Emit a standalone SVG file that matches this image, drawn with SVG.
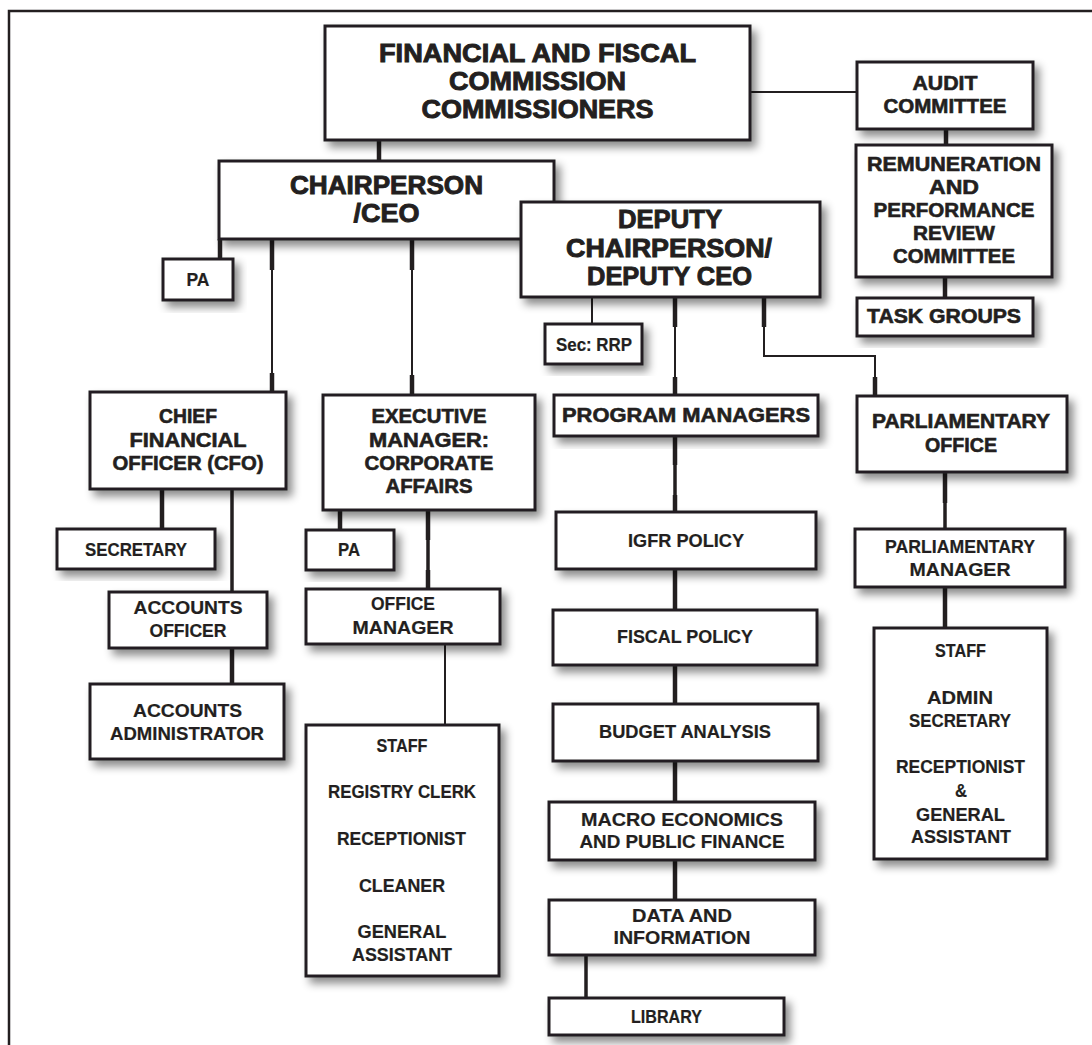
<svg xmlns="http://www.w3.org/2000/svg" width="1092" height="1045" viewBox="0 0 1092 1045">
<style>
.bg{fill:#fff}
.frame{fill:none;stroke:#231f20;stroke-width:2.5}
.box{fill:#fff;stroke:#231f20;stroke-width:3;filter:url(#sh)}
.t{font-family:"Liberation Sans",Arial,sans-serif;font-weight:bold;fill:#231f20;text-anchor:middle}
.h{font-size:25px;stroke:#231f20;stroke-width:0.9}
.m{font-size:20px;stroke:#231f20;stroke-width:0.6}
.s{font-size:19px;stroke:#231f20;stroke-width:0.2}
.ln{fill:none;stroke:#231f20;stroke-width:2;stroke-linecap:butt}
.th{fill:none;stroke:#231f20;stroke-width:4.5;stroke-linecap:butt}
.md{fill:none;stroke:#231f20;stroke-width:3.5;stroke-linecap:butt}
</style>
<defs>
<filter id="sh" x="-10%" y="-10%" width="130%" height="140%">
<feDropShadow dx="5" dy="6" stdDeviation="4" flood-color="#000" flood-opacity="0.45"/>
</filter>
</defs>
<rect class="bg" x="0" y="0" width="1092" height="1045"/>
<path class="frame" d="M9,1045 V11 H1092"/>

<g id="connectors">
<line class="th" x1="379" y1="140" x2="379" y2="161"/>
<line class="ln" x1="750" y1="92" x2="857" y2="92"/>
<line class="th" x1="946" y1="129" x2="946" y2="145"/>
<line class="th" x1="945" y1="277" x2="945" y2="298"/>
<line class="th" x1="220" y1="239" x2="220" y2="259"/>
<line class="ln" x1="272" y1="239" x2="272" y2="392"/>
<line class="th" x1="272" y1="239" x2="272" y2="270"/>
<line class="th" x1="272" y1="373" x2="272" y2="392"/>
<line class="ln" x1="412" y1="239" x2="412" y2="395"/>
<line class="th" x1="412" y1="239" x2="412" y2="270"/>
<line class="th" x1="412" y1="375" x2="412" y2="395"/>
<line class="ln" x1="592" y1="297" x2="592" y2="324"/>
<line class="ln" x1="675" y1="297" x2="675" y2="395"/>
<line class="th" x1="675" y1="297" x2="675" y2="327"/>
<line class="th" x1="675" y1="377" x2="675" y2="395"/>
<path class="ln" d="M764,297 V356 H875 V396"/>
<line class="th" x1="764" y1="297" x2="764" y2="327"/>
<line class="th" x1="875" y1="377" x2="875" y2="396"/>
<line class="th" x1="162" y1="489" x2="162" y2="529"/>
<line class="md" x1="232" y1="489" x2="232" y2="592"/>
<line class="th" x1="232" y1="648" x2="232" y2="684"/>
<line class="th" x1="340" y1="510" x2="340" y2="530"/>
<line class="md" x1="428" y1="510" x2="428" y2="589"/>
<line class="th" x1="428" y1="510" x2="428" y2="540"/>
<line class="th" x1="428" y1="570" x2="428" y2="589"/>
<line class="ln" x1="445" y1="644" x2="445" y2="725"/>
<line class="md" x1="675" y1="436" x2="675" y2="512"/>
<line class="th" x1="675" y1="436" x2="675" y2="465"/>
<line class="th" x1="675" y1="495" x2="675" y2="512"/>
<line class="th" x1="675" y1="569" x2="675" y2="610"/>
<line class="th" x1="675" y1="665" x2="675" y2="704"/>
<line class="th" x1="675" y1="761" x2="675" y2="802"/>
<line class="th" x1="675" y1="860" x2="675" y2="900"/>
<line class="md" x1="586" y1="955" x2="586" y2="998"/>
<line class="md" x1="945" y1="472" x2="945" y2="529"/>
<line class="th" x1="945" y1="472" x2="945" y2="503"/>
<line class="th" x1="945" y1="587" x2="945" y2="628"/>
</g>

<g id="ffc">
<rect class="box" x="325" y="26" width="425" height="114"/>
<text class="t h" x="537.5" y="62" textLength="317" lengthAdjust="spacingAndGlyphs">FINANCIAL AND FISCAL</text>
<text class="t h" x="537.5" y="90" textLength="177" lengthAdjust="spacingAndGlyphs">COMMISSION</text>
<text class="t h" x="537.5" y="118" textLength="232" lengthAdjust="spacingAndGlyphs">COMMISSIONERS</text>
</g>

<g id="audit">
<rect class="box" x="857" y="62" width="176" height="67"/>
<text class="t m" x="945" y="90" textLength="65" lengthAdjust="spacingAndGlyphs">AUDIT</text>
<text class="t m" x="945" y="113" textLength="123" lengthAdjust="spacingAndGlyphs">COMMITTEE</text>
</g>

<g id="remuneration">
<rect class="box" x="856" y="145" width="196" height="132"/>
<text class="t m" x="954" y="171" textLength="174" lengthAdjust="spacingAndGlyphs">REMUNERATION</text>
<text class="t m" x="954" y="194" textLength="50" lengthAdjust="spacingAndGlyphs">AND</text>
<text class="t m" x="954" y="217" textLength="161" lengthAdjust="spacingAndGlyphs">PERFORMANCE</text>
<text class="t m" x="954" y="240" textLength="82" lengthAdjust="spacingAndGlyphs">REVIEW</text>
<text class="t m" x="954" y="263" textLength="122" lengthAdjust="spacingAndGlyphs">COMMITTEE</text>
</g>

<g id="task-groups">
<rect class="box" x="857" y="298" width="176" height="38"/>
<text class="t m" x="944" y="323" textLength="154" lengthAdjust="spacingAndGlyphs">TASK GROUPS</text>
</g>

<g id="chair">
<rect class="box" x="219" y="161" width="335" height="78"/>
<text class="t h" x="386.5" y="194" textLength="193" lengthAdjust="spacingAndGlyphs">CHAIRPERSON</text>
<text class="t h" x="386.5" y="222" textLength="66" lengthAdjust="spacingAndGlyphs">/CEO</text>
</g>

<g id="deputy">
<rect class="box" x="521" y="202" width="299" height="95"/>
<text class="t h" x="670" y="228" textLength="104" lengthAdjust="spacingAndGlyphs">DEPUTY</text>
<text class="t h" x="669" y="257" textLength="206" lengthAdjust="spacingAndGlyphs">CHAIRPERSON/</text>
<text class="t h" x="669.5" y="285" textLength="165" lengthAdjust="spacingAndGlyphs">DEPUTY CEO</text>
</g>

<g id="pa-chair">
<rect class="box" x="163" y="259" width="70" height="41"/>
<text class="t s" x="198" y="286" textLength="23" lengthAdjust="spacingAndGlyphs">PA</text>
</g>

<g id="sec-rrp">
<rect class="box" x="545" y="324" width="97" height="40"/>
<text class="t s" x="594" y="351" textLength="76" lengthAdjust="spacingAndGlyphs">Sec: RRP</text>
</g>

<g id="cfo">
<rect class="box" x="90" y="392" width="196" height="97"/>
<text class="t m" x="188" y="423" textLength="58" lengthAdjust="spacingAndGlyphs">CHIEF</text>
<text class="t m" x="188" y="447" textLength="117" lengthAdjust="spacingAndGlyphs">FINANCIAL</text>
<text class="t m" x="188" y="470" textLength="151" lengthAdjust="spacingAndGlyphs">OFFICER (CFO)</text>
</g>

<g id="exec">
<rect class="box" x="323" y="395" width="212" height="115"/>
<text class="t m" x="429" y="423" textLength="115" lengthAdjust="spacingAndGlyphs">EXECUTIVE</text>
<text class="t m" x="429" y="447" textLength="120" lengthAdjust="spacingAndGlyphs">MANAGER:</text>
<text class="t m" x="429" y="470" textLength="129" lengthAdjust="spacingAndGlyphs">CORPORATE</text>
<text class="t m" x="429" y="493" textLength="87" lengthAdjust="spacingAndGlyphs">AFFAIRS</text>
</g>

<g id="program-managers">
<rect class="box" x="554" y="395" width="264" height="41"/>
<text class="t m" x="686" y="422" textLength="248" lengthAdjust="spacingAndGlyphs">PROGRAM MANAGERS</text>
</g>

<g id="parliamentary-office">
<rect class="box" x="857" y="396" width="210" height="76"/>
<text class="t m" x="961" y="428" textLength="178" lengthAdjust="spacingAndGlyphs">PARLIAMENTARY</text>
<text class="t m" x="961" y="452" textLength="72" lengthAdjust="spacingAndGlyphs">OFFICE</text>
</g>

<g id="secretary">
<rect class="box" x="57" y="529" width="158" height="40"/>
<text class="t s" x="136" y="556" textLength="102" lengthAdjust="spacingAndGlyphs">SECRETARY</text>
</g>

<g id="pa-exec">
<rect class="box" x="306" y="530" width="88" height="40"/>
<text class="t s" x="349" y="556" textLength="22" lengthAdjust="spacingAndGlyphs">PA</text>
</g>

<g id="igfr-policy">
<rect class="box" x="556" y="512" width="260" height="57"/>
<text class="t s" x="686" y="547" textLength="116" lengthAdjust="spacingAndGlyphs">IGFR POLICY</text>
</g>

<g id="parliamentary-manager">
<rect class="box" x="855" y="529" width="210" height="58"/>
<text class="t s" x="960" y="553" textLength="150" lengthAdjust="spacingAndGlyphs">PARLIAMENTARY</text>
<text class="t s" x="960" y="576" textLength="101" lengthAdjust="spacingAndGlyphs">MANAGER</text>
</g>

<g id="accounts-officer">
<rect class="box" x="109" y="592" width="158" height="56"/>
<text class="t s" x="188" y="614" textLength="109" lengthAdjust="spacingAndGlyphs">ACCOUNTS</text>
<text class="t s" x="188" y="637" textLength="77" lengthAdjust="spacingAndGlyphs">OFFICER</text>
</g>

<g id="office-manager">
<rect class="box" x="306" y="589" width="194" height="55"/>
<text class="t s" x="403" y="610" textLength="64" lengthAdjust="spacingAndGlyphs">OFFICE</text>
<text class="t s" x="403" y="634" textLength="101" lengthAdjust="spacingAndGlyphs">MANAGER</text>
</g>

<g id="fiscal-policy">
<rect class="box" x="553" y="610" width="264" height="55"/>
<text class="t s" x="685" y="643" textLength="136" lengthAdjust="spacingAndGlyphs">FISCAL POLICY</text>
</g>

<g id="parliamentary-staff">
<rect class="box" x="874" y="628" width="173" height="231"/>
<text class="t s" x="960.5" y="657" textLength="51" lengthAdjust="spacingAndGlyphs">STAFF</text>
<text class="t s" x="960" y="704" textLength="66" lengthAdjust="spacingAndGlyphs">ADMIN</text>
<text class="t s" x="960" y="727" textLength="102" lengthAdjust="spacingAndGlyphs">SECRETARY</text>
<text class="t s" x="960.5" y="773" textLength="129" lengthAdjust="spacingAndGlyphs">RECEPTIONIST</text>
<text class="t s" x="961" y="797" textLength="12" lengthAdjust="spacingAndGlyphs">&amp;</text>
<text class="t s" x="960.5" y="821" textLength="89" lengthAdjust="spacingAndGlyphs">GENERAL</text>
<text class="t s" x="961" y="843" textLength="100" lengthAdjust="spacingAndGlyphs">ASSISTANT</text>
</g>

<g id="accounts-administrator">
<rect class="box" x="90" y="684" width="194" height="75"/>
<text class="t s" x="187.5" y="717" textLength="109" lengthAdjust="spacingAndGlyphs">ACCOUNTS</text>
<text class="t s" x="187" y="740" textLength="154" lengthAdjust="spacingAndGlyphs">ADMINISTRATOR</text>
</g>

<g id="budget-analysis">
<rect class="box" x="553" y="704" width="265" height="57"/>
<text class="t s" x="685" y="738" textLength="172" lengthAdjust="spacingAndGlyphs">BUDGET ANALYSIS</text>
</g>

<g id="office-staff">
<rect class="box" x="306" y="725" width="193" height="251"/>
<text class="t s" x="402" y="752" textLength="51" lengthAdjust="spacingAndGlyphs">STAFF</text>
<text class="t s" x="402" y="798" textLength="148" lengthAdjust="spacingAndGlyphs">REGISTRY CLERK</text>
<text class="t s" x="401.5" y="845" textLength="129" lengthAdjust="spacingAndGlyphs">RECEPTIONIST</text>
<text class="t s" x="402" y="892" textLength="86" lengthAdjust="spacingAndGlyphs">CLEANER</text>
<text class="t s" x="402" y="938" textLength="89" lengthAdjust="spacingAndGlyphs">GENERAL</text>
<text class="t s" x="402" y="961" textLength="100" lengthAdjust="spacingAndGlyphs">ASSISTANT</text>
</g>

<g id="macro-economics">
<rect class="box" x="549" y="802" width="266" height="58"/>
<text class="t s" x="682" y="826" textLength="202" lengthAdjust="spacingAndGlyphs">MACRO ECONOMICS</text>
<text class="t s" x="682" y="848" textLength="205" lengthAdjust="spacingAndGlyphs">AND PUBLIC FINANCE</text>
</g>

<g id="data-information">
<rect class="box" x="549" y="900" width="266" height="55"/>
<text class="t s" x="682" y="922" textLength="100" lengthAdjust="spacingAndGlyphs">DATA AND</text>
<text class="t s" x="682" y="944" textLength="137" lengthAdjust="spacingAndGlyphs">INFORMATION</text>
</g>

<g id="library">
<rect class="box" x="549" y="998" width="235" height="37"/>
<text class="t s" x="666.5" y="1023" textLength="71" lengthAdjust="spacingAndGlyphs">LIBRARY</text>
</g>
</svg>
